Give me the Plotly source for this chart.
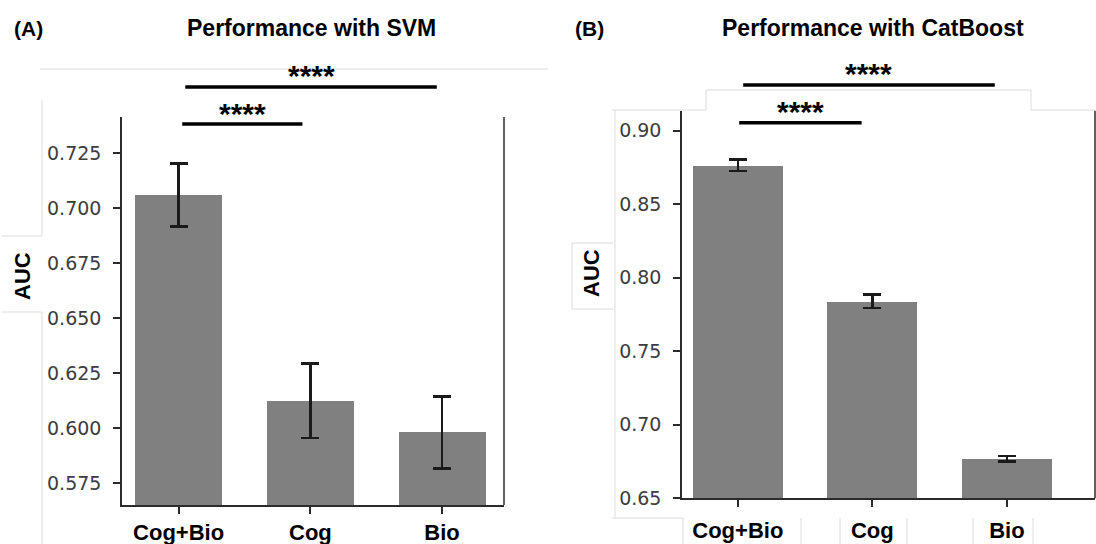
import plotly.graph_objects as go

# ---------------- data ----------------
categories = ["Cog+Bio", "Cog", "Bio"]

svm_auc = [0.706, 0.6125, 0.598]
svm_err = [0.0143, 0.017, 0.0163]
svm_yticks = [0.575, 0.600, 0.625, 0.650, 0.675, 0.700, 0.725]

cat_auc = [0.8765, 0.784, 0.677]
cat_err = [0.0038, 0.0047, 0.0018]
cat_yticks = [0.65, 0.70, 0.75, 0.80, 0.85, 0.90]

# significance comparisons: (from index, to index, label)
svm_sig = [(0, 1, "****"), (0, 2, "****")]
cat_sig = [(0, 1, "****"), (0, 2, "****")]

W, H = 1096, 544
BAR = "#808080"
ERR = "#1a1a1a"
SPINE = "#2b2b2b"
TICKFONT = dict(family="DejaVu Sans", size=19, color="#3c3c3c")
BOLD = "Liberation Sans, Arial, sans-serif"


def fx(p):
    return p / W


def fy(p):
    return 1 - p / H


# panel geometry (pixels)
A_x = (122, 504)
A_y = (117, 505)
B_x = (682, 1095)
B_y = (110.7, 498.3)
A_xr = [-0.43, 2.47]
B_xr = [-0.415, 2.655]
A_yr = [0.565, 0.7415]
B_yr = [0.65, 0.9136]

fig = go.Figure()

fig.add_trace(go.Bar(
    x=list(range(len(categories))), y=svm_auc, width=0.66,
    marker=dict(color=BAR, line=dict(width=0)),
    error_y=dict(type="data", array=svm_err, color=ERR, thickness=2.6, width=9),
    xaxis="x", yaxis="y", showlegend=False, hoverinfo="skip",
))
fig.add_trace(go.Bar(
    x=list(range(len(categories))), y=cat_auc, width=0.67,
    marker=dict(color=BAR, line=dict(width=0)),
    error_y=dict(type="data", array=cat_err, color=ERR, thickness=2.6, width=9),
    xaxis="x2", yaxis="y2", showlegend=False, hoverinfo="skip",
))

xcommon = dict(
    tickmode="array", tickvals=list(range(len(categories))),
    ticktext=[f"<b>{c}</b>" for c in categories],
    ticks="outside", ticklen=7, tickwidth=1.5, tickcolor=SPINE,
    showline=True, linecolor=SPINE, linewidth=1.5,
    showgrid=False, zeroline=False, fixedrange=True, automargin=False,
    tickfont=dict(family=BOLD, size=22, color="#000000", weight="bold"),
)
ycommon = dict(
    tickmode="array", ticks="outside", ticklen=7, tickwidth=1.5, tickcolor=SPINE,
    showline=True, linecolor=SPINE, linewidth=1.5,
    showgrid=False, zeroline=False, fixedrange=True, automargin=False,
    tickfont=TICKFONT, ticklabelstandoff=8,
)

fig.update_layout(
    width=W, height=H,
    margin=dict(l=0, r=0, t=0, b=0, autoexpand=False),
    paper_bgcolor="white", plot_bgcolor="white",
    bargap=0,
    xaxis=dict(xcommon, domain=[fx(A_x[0]), fx(A_x[1])], range=A_xr, anchor="y",
               ticklabelstandoff=0),
    yaxis=dict(ycommon, domain=[fy(A_y[1]), fy(A_y[0])], range=A_yr, anchor="x",
               tickvals=svm_yticks, ticktext=[f"{v:.3f}" for v in svm_yticks]),
    xaxis2=dict(xcommon, domain=[fx(B_x[0]), fx(B_x[1])], range=B_xr, anchor="y2",
                ticklabelstandoff=5),
    yaxis2=dict(ycommon, domain=[fy(B_y[1]), fy(B_y[0])], range=B_yr, anchor="x2",
                tickvals=cat_yticks, ticktext=[f"{v:.2f}" for v in cat_yticks]),
)

shapes = []
annotations = []

# right spines
for xa, ya in (("x", "y"), ("x2", "y2")):
    shapes.append(dict(type="line", xref=f"{xa} domain", yref=f"{ya} domain",
                       x0=1, x1=1, y0=0, y1=1, line=dict(color=SPINE, width=1.5)))


def dom(idx, xr):
    return (idx - xr[0]) / (xr[1] - xr[0])


def add_sig(sig, xa, xr, ypix_lines, ypix_stars, px_rng, inset):
    ydom = px_rng
    for (i, j, lab), yl, ys, (a, b) in zip(sig, ypix_lines, ypix_stars, inset):
        y_line = (ydom[1] - yl) / (ydom[1] - ydom[0])
        shapes.append(dict(type="line", xref=f"{xa} domain", yref=f"{xa.replace('x', 'y')} domain",
                           x0=dom(i + a, xr), x1=dom(j + b, xr), y0=y_line, y1=y_line,
                           line=dict(color="#000000", width=3.5)))
        annotations.append(dict(text=f"<b>{lab}</b>", xref=f"{xa} domain",
                                yref="paper", x=dom((i + a + j + b) / 2, xr), y=fy(ys),
                                showarrow=False, xanchor="center", yanchor="middle",
                                font=dict(family=BOLD, size=30, color="#000000")))


add_sig(svm_sig, "x", A_xr, [124, 87], [113.5, 75.5], A_y, [(0.027, -0.06), (0.05, -0.04)])
add_sig(cat_sig, "x2", B_xr, [122.7, 85], [111.5, 73.5], B_y, [(0.01, -0.08), (0.04, -0.09)])

# titles
for txt, x in (("(A)", 28), ("(B)", 589)):
    annotations.append(dict(text=f"<b>{txt}</b>", xref="paper", yref="paper", x=fx(x), y=fy(28),
                            showarrow=False, xanchor="center", yanchor="middle",
                            font=dict(family=BOLD, size=21, color="#000000")))
for txt, x in (("Performance with SVM", 311), ("Performance with CatBoost", 873)):
    annotations.append(dict(text=f"<b>{txt}</b>", xref="paper", yref="paper", x=fx(x), y=fy(28),
                            showarrow=False, xanchor="center", yanchor="middle",
                            font=dict(family=BOLD, size=23, color="#000000")))

# y-axis titles
for x, y in ((22, 276), (591, 273)):
    annotations.append(dict(text="<b>AUC</b>", xref="paper", yref="paper", x=fx(x), y=fy(y),
                            showarrow=False, xanchor="center", yanchor="middle", textangle=-90,
                            font=dict(family=BOLD, size=22, color="#000000")))

# faint panel-border artefacts of the composed figure
FAINT = dict(color="#dcdcdc", width=1)
for x0, y0, x1, y1 in [
    (40, 69, 548, 69),
    (2, 236, 42, 236), (2, 312, 42, 312), (42, 100, 42, 236), (42, 312, 42, 544),
    (706, 90, 1031, 90), (706, 90, 706, 110), (1031, 90, 1031, 110),
    (612, 110, 706, 110), (1031, 110, 1095, 110), (615, 110, 615, 518),
    (572, 243, 613, 243), (572, 309, 613, 309), (572, 243, 572, 309),
    (612, 518, 683, 518),
    (683, 518, 683, 544), (801, 518, 801, 544), (840, 518, 840, 544),
    (907, 518, 907, 544), (973, 518, 973, 544), (1033, 518, 1033, 544),
]:
    shapes.append(dict(type="line", xref="paper", yref="paper",
                       x0=fx(x0), x1=fx(x1), y0=fy(y0), y1=fy(y1), line=FAINT, layer="below"))

fig.update_layout(shapes=shapes, annotations=annotations)

fig.write_html(
    "out.html",
    config={"displayModeBar": False, "responsive": False},
    post_script="document.body.style.margin='0';document.body.style.overflow='hidden';",
)
